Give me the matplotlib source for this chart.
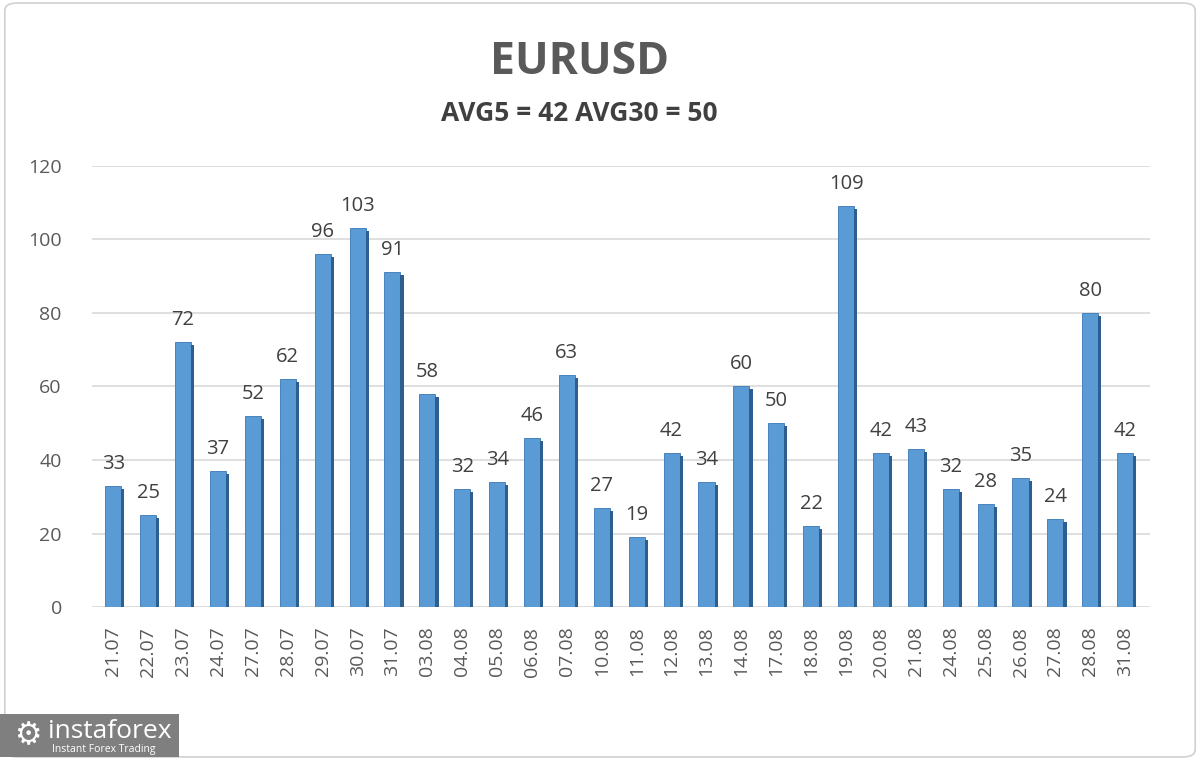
import matplotlib
matplotlib.use("Agg")
import matplotlib.pyplot as plt
from matplotlib.patches import FancyBboxPatch, Rectangle
import numpy as np

plt.rcParams['font.family'] = ['Open Sans', 'DejaVu Sans']

# data
dates = ['21.07', '22.07', '23.07', '24.07', '27.07', '28.07', '29.07', '30.07',
         '31.07', '03.08', '04.08', '05.08', '06.08', '07.08', '10.08', '11.08',
         '12.08', '13.08', '14.08', '17.08', '18.08', '19.08', '20.08', '21.08',
         '24.08', '25.08', '26.08', '27.08', '28.08', '31.08']
values = [33, 25, 72, 37, 52, 62, 96, 103, 91, 58, 32, 34, 46, 63, 27, 19,
          42, 34, 60, 50, 22, 109, 42, 43, 32, 28, 35, 24, 80, 42]
title = 'EURUSD'
subtitle = 'AVG5 = 42 AVG30 = 50'
yticks = [0, 20, 40, 60, 80, 100, 120]

fig = plt.figure(figsize=(12, 7.6), dpi=100)
fig.patch.set_facecolor('white')

# outer border
fig.patches.append(FancyBboxPatch((0.004, 0.004), 0.992, 0.992,
                                  boxstyle='round,pad=0,rounding_size=0.01',
                                  transform=fig.transFigure, fill=False,
                                  edgecolor='#d0d0d0', linewidth=1.2))

ax = fig.add_axes([0.077, 0.201, 0.881, 0.581])
x = np.arange(len(values))

# grid
for t in yticks:
    ax.axhline(t, color='#d9d9d9', linewidth=1.2, zorder=0)

w = 0.46
ax.bar(x, values, width=w, color='#5b9bd5', edgecolor='#3a78b5',
       linewidth=0.6, zorder=2)
# darker side face for a slight 3d look
ax.bar(x + w / 2 + 0.045, values, width=0.09, bottom=-0.8,
       color='#2c5f8f', linewidth=0, zorder=2)

for xi, v in zip(x, values):
    ax.text(xi, v + 3.3, str(v), ha='center', va='bottom',
            fontsize=14.5, color='#404040')

ax.set_xlim(-0.6, 29.7)
ax.set_ylim(0, 120)
ax.set_yticks(yticks)
ax.set_yticklabels([str(t) for t in yticks], fontsize=14, color='#595959')
ax.set_xticks(x)
ax.set_xticklabels(dates, rotation=90, fontsize=14, color='#595959')
ax.tick_params(length=0, pad=14)
ax.tick_params(axis='y', pad=22)
for s in ax.spines.values():
    s.set_visible(False)
ax.set_facecolor('none')

fig.text(0.483, 0.918, title, ha='center', va='center', fontsize=32,
         fontweight='bold', color='#595959')
fig.text(0.483, 0.851, subtitle, ha='center', va='center', fontsize=19,
         fontweight='bold', color='#404040')

# logo
fig.patches.append(Rectangle((0.0, 0.004), 0.149, 0.056,
                             transform=fig.transFigure,
                             facecolor='#7f7f7f', edgecolor='none'))
fig.text(0.012, 0.032, '\u2699', fontsize=22, color='white', va='center',
         family=['DejaVu Sans'])
fig.text(0.040, 0.037, 'instaforex', fontsize=19, color='white', va='center')
fig.text(0.043, 0.014, 'Instant Forex Trading', fontsize=7.5, color='white',
         va='center')

fig.savefig('out.png', dpi=100)
